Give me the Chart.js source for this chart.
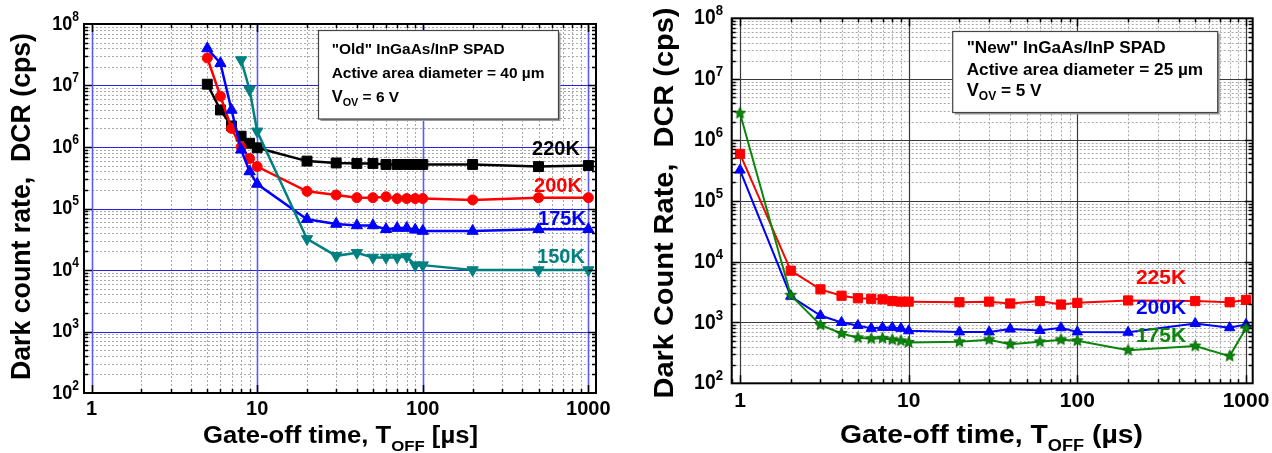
<!DOCTYPE html>
<html>
<head>
<meta charset="utf-8">
<script src="https://cdn.jsdelivr.net/npm/chart.js@4/dist/chart.umd.min.js"></script>
<style>
  html, body { margin: 0; padding: 0; background: #fff; }
  #wrap { position: relative; width: 1272px; height: 453px; overflow: hidden; }
  canvas { position: absolute; top: 0; }
  #oldChart { left: 0; }
  #newChart { left: 636px; }
</style>
</head>
<body>
<div id="wrap">
  <canvas id="oldChart" width="636" height="453"></canvas>
  <canvas id="newChart" width="636" height="453"></canvas>
</div>
<script>
// "Old" SPAD, 40 um, Vov = 6 V : gate-off time (us) vs DCR (cps)
const oldTimes = [5, 6, 7, 8, 9, 10, 20, 30, 40, 50, 60, 70, 80, 90, 100, 200, 500, 1000];
const old220K = [1.05e7, 4.0e6, 2.2e6, 1.5e6, 1.15e6, 9.7e5, 5.9e5, 5.5e5, 5.4e5, 5.4e5, 5.2e5, 5.2e5, 5.2e5, 5.2e5, 5.2e5, 5.2e5, 4.8e5, 5.0e5];
const old200K = [2.8e7, 6.7e6, 2.0e6, 1.0e6, 6.5e5, 4.8e5, 1.9e5, 1.66e5, 1.5e5, 1.5e5, 1.55e5, 1.45e5, 1.45e5, 1.45e5, 1.45e5, 1.38e5, 1.5e5, 1.5e5];
const old175K = [4.0e7, 2.3e7, 4.0e6, 9.0e5, 4.0e5, 2.5e5, 6.7e4, 5.6e4, 5.3e4, 5.3e4, 4.6e4, 4.8e4, 4.8e4, 4.5e4, 4.3e4, 4.3e4, 4.6e4, 4.6e4];
const oldTimes150 = [8, 9, 10, 20, 30, 40, 50, 60, 70, 80, 90, 100, 200, 500, 1000];
const old150K = [2.6e7, 8.5e6, 1.8e6, 3.2e4, 1.7e4, 1.9e4, 1.6e4, 1.6e4, 1.6e4, 1.65e4, 1.2e4, 1.2e4, 1.0e4, 1.0e4, 1.0e4];

// "New" SPAD, 25 um, Vov = 5 V
const newTimes = [1, 2, 3, 4, 5, 6, 7, 8, 9, 10, 20, 30, 40, 60, 80, 100, 200, 500, 800, 1000];
const new225K = [5.9e5, 7.1e3, 3.5e3, 2.75e3, 2.5e3, 2.45e3, 2.4e3, 2.25e3, 2.2e3, 2.2e3, 2.15e3, 2.2e3, 2.05e3, 2.25e3, 1.97e3, 2.1e3, 2.3e3, 2.25e3, 2.15e3, 2.35e3];
const new200K = [3.2e5, 2.7e3, 1.3e3, 1.0e3, 8.9e2, 8.0e2, 8.3e2, 8.3e2, 8.0e2, 7.3e2, 7.0e2, 7.0e2, 7.8e2, 7.4e2, 8.2e2, 7.0e2, 6.9e2, 9.6e2, 8.2e2, 9.3e2];
const new175K = [2.75e6, 2.8e3, 9.1e2, 6.6e2, 5.6e2, 5.4e2, 5.5e2, 5.2e2, 5.0e2, 4.7e2, 4.8e2, 5.2e2, 4.4e2, 4.8e2, 5.2e2, 5.0e2, 3.5e2, 4.1e2, 2.8e2, 8.0e2];

const xTickLabels = ['1', '10', '100', '1000'];
const yExponents = ['2', '3', '4', '5', '6', '7', '8'];

const FAMILY = '"Liberation Sans", Arial, sans-serif';
const font = size => `bold ${size}px ${FAMILY}`;

function runsWidth(ctx, runs) {
  let w = 0;
  runs.forEach(r => { ctx.font = font(r.size); w += ctx.measureText(r.t).width; });
  return w;
}

// draws text pieces side by side (for sub/superscripts), squeezed by sx
function drawRuns(ctx, runs, x, y, sx = 1) {
  ctx.save();
  ctx.translate(x, y);
  ctx.scale(sx, 1);
  let cx = 0;
  runs.forEach(r => {
    ctx.font = font(r.size);
    ctx.fillText(r.t, cx, r.dy || 0);
    cx += ctx.measureText(r.t).width;
  });
  ctx.restore();
}

function fitRuns(ctx, runs, x, y, width) {
  drawRuns(ctx, runs, x, y, width / runsWidth(ctx, runs));
}

function decadeValues(min, max, minor) {
  const out = [];
  for (let e = Math.floor(Math.log10(min)); e <= Math.ceil(Math.log10(max)); e++) {
    const mults = minor ? [2, 3, 4, 5, 6, 7, 8, 9] : [1];
    mults.forEach(m => {
      const v = m * Math.pow(10, e);
      if (v >= min * 1.0001 && v <= max / 1.0001) out.push(v);
    });
  }
  return out;
}

function starImage(color, r) {
  const s = Math.ceil(r * 2 + 3);
  const c = document.createElement('canvas');
  c.width = c.height = s;
  const g = c.getContext('2d');
  g.beginPath();
  for (let i = 0; i < 10; i++) {
    const rr = i % 2 ? r * 0.45 : r;
    const a = -Math.PI / 2 + i * Math.PI / 5;
    g.lineTo(s / 2 + rr * Math.cos(a), s / 2 + rr * Math.sin(a));
  }
  g.closePath();
  g.fillStyle = color;
  g.fill();
  g.strokeStyle = '#006000';
  g.lineWidth = 0.8;
  g.stroke();
  return c;
}

function series(label, xs, ys, color, pointStyle, radius, lineWidth, extra) {
  return Object.assign({
    label,
    data: xs.map((t, i) => ({ x: t, y: ys[i] })),
    borderColor: color,
    backgroundColor: color,
    pointBackgroundColor: color,
    pointBorderColor: color,
    pointStyle,
    pointRadius: radius,
    pointBorderWidth: 1,
    borderWidth: lineWidth,
    tension: 0,
    clip: false
  }, extra || {});
}

// grid, frame, tick marks, labels and the text box
function decor(o) {
  return {
    id: 'decor',
    beforeDatasetsDraw(chart) {
      const { ctx, chartArea: a, scales: { x, y } } = chart;
      ctx.save();
      ctx.lineWidth = 1;
      ctx.setLineDash([2, 2]);
      ctx.strokeStyle = o.minorColor;
      ctx.beginPath();
      decadeValues(x.min, x.max, true).forEach(v => {
        const px = Math.round(x.getPixelForValue(v)) + 0.5;
        ctx.moveTo(px, a.top); ctx.lineTo(px, a.bottom);
      });
      decadeValues(y.min, y.max, true).forEach(v => {
        const py = Math.round(y.getPixelForValue(v)) + 0.5;
        ctx.moveTo(a.left, py); ctx.lineTo(a.right, py);
      });
      ctx.stroke();
      ctx.setLineDash([]);
      ctx.strokeStyle = o.majorY;
      ctx.lineWidth = o.majorYWidth;
      ctx.beginPath();
      decadeValues(y.min, y.max, false).forEach(v => {
        const py = Math.round(y.getPixelForValue(v)) + 0.5;
        ctx.moveTo(a.left, py); ctx.lineTo(a.right, py);
      });
      ctx.stroke();
      ctx.strokeStyle = o.majorX;
      ctx.lineWidth = o.majorXWidth;
      ctx.beginPath();
      decadeValues(x.min, x.max, false).forEach(v => {
        const px = Math.round(x.getPixelForValue(v)) + 0.5;
        ctx.moveTo(px, a.top); ctx.lineTo(px, a.bottom);
      });
      ctx.stroke();
      ctx.restore();
    },
    afterDatasetsDraw(chart) {
      const { ctx, chartArea: a, scales: { x, y } } = chart;
      ctx.save();
      ctx.strokeStyle = '#000';
      ctx.fillStyle = '#000';

      // inward tick marks on all four sides
      ctx.lineWidth = 1.5;
      ctx.beginPath();
      [[true, 4], [false, 8]].forEach(([minor, len]) => {
        decadeValues(x.min, x.max, minor).forEach(v => {
          const px = Math.round(x.getPixelForValue(v)) + 0.5;
          ctx.moveTo(px, a.bottom); ctx.lineTo(px, a.bottom - len);
          ctx.moveTo(px, a.top); ctx.lineTo(px, a.top + len);
        });
        decadeValues(y.min, y.max, minor).forEach(v => {
          const py = Math.round(y.getPixelForValue(v)) + 0.5;
          ctx.moveTo(a.left, py); ctx.lineTo(a.left + len, py);
          ctx.moveTo(a.right, py); ctx.lineTo(a.right - len, py);
        });
      });
      ctx.stroke();

      // frame
      ctx.lineWidth = 2;
      ctx.strokeRect(a.left, a.top, a.right - a.left, a.bottom - a.top);

      // tick labels
      ctx.textBaseline = 'middle';
      ctx.textAlign = 'center';
      ctx.font = font(o.xTickSize);
      xTickLabels.forEach(t => {
        ctx.fillText(t, x.getPixelForValue(Number(t)), o.xTickY);
      });
      ctx.textAlign = 'left';
      yExponents.forEach(e => {
        const py = y.getPixelForValue(Math.pow(10, Number(e)));
        const runs = [{ t: '10', size: o.yTickSize }, { t: e, size: o.yExpSize, dy: -7 }];
        drawRuns(ctx, runs, o.yTickRight - runsWidth(ctx, runs) * o.tickSqueeze, py, o.tickSqueeze);
      });

      // axis titles
      ctx.save();
      ctx.translate(o.yTitle.x, o.yTitle.y);
      ctx.rotate(-Math.PI / 2);
      ctx.textBaseline = 'middle';
      fitRuns(ctx, [{ t: o.yTitle.text, size: o.yTitle.size }], -o.yTitle.len / 2, 0, o.yTitle.len);
      ctx.restore();
      ctx.textBaseline = 'alphabetic';
      fitRuns(ctx, o.xTitle.runs, o.xTitle.x, o.xTitle.y, o.xTitle.len);

      // text box
      const b = o.box;
      ctx.fillStyle = '#9a9a9a';
      ctx.fillRect(b.x + 2, b.y + 2, b.w, b.h);
      ctx.fillStyle = '#fff';
      ctx.fillRect(b.x, b.y, b.w, b.h);
      ctx.strokeStyle = '#444';
      ctx.lineWidth = 1.2;
      ctx.strokeRect(b.x, b.y, b.w, b.h);
      ctx.fillStyle = '#000';
      ctx.textBaseline = 'middle';
      ctx.font = font(14);
      const bs = 14 * b.fitWidth / ctx.measureText(b.lines[1]).width;
      drawRuns(ctx, [{ t: b.lines[0], size: bs }], b.tx, b.ly[0]);
      drawRuns(ctx, [{ t: b.lines[1], size: bs }], b.tx, b.ly[1]);
      drawRuns(ctx, [{ t: 'V', size: bs + 1 }, { t: 'OV', size: bs * 0.7, dy: 6 },
        { t: b.lines[2], size: bs }], b.tx, b.ly[2]);

      // series labels, centred on their anchor
      ctx.textAlign = 'center';
      ctx.textBaseline = 'middle';
      o.seriesLabels.forEach(s => {
        ctx.fillStyle = s.color;
        ctx.font = font(o.seriesSize);
        ctx.fillText(s.text, s.x, s.y);
      });
      ctx.restore();
    }
  };
}

function baseOptions(padding, xMin, xMax) {
  return {
    responsive: false,
    animation: false,
    devicePixelRatio: 1,
    layout: { padding },
    plugins: { legend: { display: false }, tooltip: { enabled: false } },
    scales: {
      x: { type: 'logarithmic', display: false, min: xMin, max: xMax },
      y: { type: 'logarithmic', display: false, min: 1e2, max: 1e8 }
    }
  };
}

const TEAL = '#008080';
const GREEN = '#0a860a';

new Chart(document.getElementById('oldChart'), {
  type: 'line',
  data: {
    datasets: [
      series('150K', oldTimes150, old150K, TEAL, 'triangle', 6.5, 2.5, { pointRotation: 180 }),
      series('175K', oldTimes, old175K, '#0000ff', 'triangle', 6.5, 2.5),
      series('200K', oldTimes, old200K, '#ff0000', 'circle', 5, 2.5),
      series('220K', oldTimes, old220K, '#000000', 'rect', 7, 2.5)
    ]
  },
  options: baseOptions({ left: 84, top: 24, right: 40, bottom: 60 }, 0.9, 1112),
  plugins: [decor({
    minorColor: '#a8a8a8',
    majorX: '#5a5aff', majorXWidth: 1.6,
    majorY: '#2424e8', majorYWidth: 1.2,
    xTickSize: 20, xTickY: 409,
    yTickSize: 21, yExpSize: 14, yTickRight: 79, tickSqueeze: 0.86,
    yTitle: { text: 'Dark count rate,  DCR (cps)', size: 27, x: 23, y: 206.5, len: 347 },
    xTitle: {
      x: 203, y: 443, len: 275,
      runs: [{ t: 'Gate-off time, T', size: 23 }, { t: 'OFF', size: 15, dy: 8 }, { t: ' [\u00b5s]', size: 23 }]
    },
    box: {
      x: 318.5, y: 30.5, w: 240, h: 88.5, tx: 331.7, ly: [49.3, 74, 97.5], fitWidth: 213,
      lines: ['"Old" InGaAs/InP SPAD', 'Active area diameter = 40 \u00b5m', ' = 6 V']
    },
    seriesSize: 20,
    seriesLabels: [
      { text: '220K', color: '#000000', x: 556, y: 149 },
      { text: '200K', color: '#ff0000', x: 558, y: 186 },
      { text: '175K', color: '#0000ff', x: 562, y: 219 },
      { text: '150K', color: TEAL, x: 561, y: 257 }
    ]
  })]
});

new Chart(document.getElementById('newChart'), {
  type: 'line',
  data: {
    datasets: [
      series('175K', newTimes, new175K, GREEN, starImage(GREEN, 6), 6, 2),
      series('200K', newTimes, new200K, '#0000ff', 'triangle', 6, 2),
      series('225K', newTimes, new225K, '#ff0000', 'rect', 6.5, 2)
    ]
  },
  options: baseOptions({ left: 95.7, top: 18.3, right: 19.3, bottom: 69.7 }, 0.893, 1096),
  plugins: [decor({
    minorColor: '#a8a8a8',
    majorX: '#3a3a3a', majorXWidth: 1.2,
    majorY: '#3a3a3a', majorYWidth: 1.2,
    xTickSize: 21, xTickY: 401,
    yTickSize: 22, yExpSize: 15, yTickRight: 87, tickSqueeze: 0.88,
    yTitle: { text: 'Dark Count Rate,  DCR (cps)', size: 28, x: 29, y: 203, len: 391 },
    xTitle: {
      x: 204, y: 443, len: 303,
      runs: [{ t: 'Gate-off time, T', size: 25 }, { t: 'OFF', size: 16, dy: 8 }, { t: ' (\u00b5s)', size: 25 }]
    },
    box: {
      x: 316.7, y: 31.5, w: 265, h: 81, tx: 330.7, ly: [48.3, 70, 91], fitWidth: 236.7,
      lines: ['"New" InGaAs/InP SPAD', 'Active area diameter = 25 \u00b5m', ' = 5 V']
    },
    seriesSize: 21,
    seriesLabels: [
      { text: '225K', color: '#ff0000', x: 525, y: 278 },
      { text: '200K', color: '#0000ff', x: 525, y: 308 },
      { text: '175K', color: GREEN, x: 525, y: 336 }
    ]
  })]
});
</script>
</body>
</html>
